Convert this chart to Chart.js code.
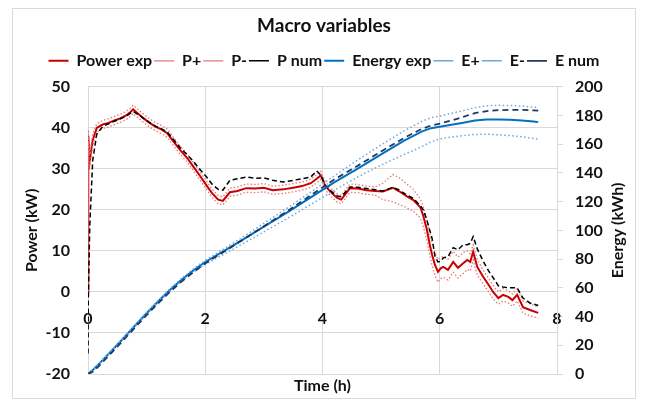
<!DOCTYPE html>
<html>
<head>
<meta charset="utf-8">
<script src="https://cdn.jsdelivr.net/npm/chart.js@4.4.1/dist/chart.umd.min.js"></script>
<style>
  html, body { margin: 0; padding: 0; background: #fff; }
  #wrap { position: relative; width: 648px; height: 402px; }
  #frame { position: absolute; left: 12px; top: 8px; width: 624px; height: 391px; border: 1px solid #d9d9d9; box-sizing: border-box; }
  #c { position: absolute; left: 0; top: 0; }
</style>
</head>
<body>
<div id="wrap">
  <div id="frame"></div>
  <canvas id="c" width="648" height="402"></canvas>
</div>
<script>
// ---- Power series (kW), time in hours ----
const tP = [0,0.005,0.03,0.08,0.15,0.25,0.35,0.45,0.55,0.65,
  0.72,0.77,0.85,0.95,1.05,1.15,1.25,1.35,1.45,1.57,
  1.7,1.8,1.9,2.03,2.12,2.22,2.3,2.42,2.55,2.7,
  2.85,3.0,3.15,3.33,3.5,3.65,3.8,3.9,3.97,4.05,
  4.15,4.25,4.32,4.4,4.47,4.6,4.75,4.9,5.03,5.2,
  5.3,5.44,5.55,5.67,5.72,5.78,5.83,5.87,5.92,5.97,
  6.02,6.06,6.14,6.23,6.31,6.4,6.47,6.52,6.57,6.64,
  6.74,6.83,6.91,7.0,7.08,7.17,7.24,7.32,7.42,7.54,
  7.68];
const powerExp = [0,38,32,37,40,40.8,41.2,41.8,42.3,43,
  43.8,44.5,43.5,42.3,41.2,40.3,39.6,38.7,36.8,34.6,
  32.5,30.5,28.5,25.8,24,22.5,22.2,24.3,24.6,25.3,
  25.2,25.4,24.8,25,25.4,25.8,26.5,27.6,28.4,25.8,
  24.2,22.9,22.5,24,25.3,25.2,24.8,24.6,24.5,25.4,
  24.6,23.3,22.4,20.6,18.5,15.2,11.5,9,6.5,4.9,
  5.8,6.1,5.4,7.3,5.9,7,7.8,7.3,9.8,6.1,
  3.7,1.8,0,-1.5,-0.7,-1.2,-2,-0.7,-3.7,-4.4,
  -5.1];
const pPlus = [1.5,39.5,33.5,38.5,41,41.8,42.2,42.8,43.3,44,
  44.8,45.5,44.5,43.3,42.2,41.3,40.6,39.7,37.8,35.6,
  33.5,31.5,29.5,26.8,25,23.5,23.2,25.3,25.6,26.3,
  26.2,26.4,25.8,26,26.4,26.8,27.5,28.6,29.4,26.8,
  25.2,23.9,23.5,25,26.3,26.2,25.8,25.6,26.5,28.6,
  27.9,26.3,25,22.6,20.7,17.7,14.2,11.8,9.5,7.9,
  8.4,8.7,8,9.9,8.5,9.6,10,9.3,11.5,7.9,
  5.3,3.4,1.6,0,0.8,0.3,-0.5,0.8,-2.2,-2.9,
  -3.7];
const pMinus = [-1.5,36.5,30.5,35.5,39,39.8,40.2,40.8,41.3,42,
  42.8,43.5,42.5,41.3,40.2,39.3,38.6,37.7,35.8,33.6,
  31.5,29.5,27.5,24.8,23,21.5,21.2,23.3,23.6,24.3,
  24.2,24.4,23.8,24,24.4,24.8,25.5,26.6,27.4,24.8,
  23.2,21.9,21.5,23,24.3,24.2,23.8,23.6,22.5,22,
  21.4,20.5,19.7,18,15.9,12.6,8.9,6.4,4,2.4,
  3.3,3.6,2.9,4.8,3.4,4.5,5.5,5.1,7.8,4.1,
  2,0.1,-1.7,-3,-2.2,-2.7,-3.5,-2.2,-5.2,-5.8,
  -6.4];
const pNum = [-15,-2,16,32,38.5,40.3,41,41.6,42.2,42.8,
  43.5,44,43.3,42.3,41.3,40.4,39.8,39,37.3,35.2,
  33.3,31.8,30,27.9,26.2,25,24.8,27.2,27.6,28,
  27.7,27.8,27.2,26.8,27.2,27.6,28,29.5,28.5,26,
  24.5,23.4,23.2,24.5,25.6,25.5,25.2,24.9,24.6,25.5,
  24.9,23.6,22.8,21,20,17.5,15,13,8.6,7.3,
  7.5,8.3,8.6,10.8,10.3,11.5,11.5,11.8,13.5,10.5,
  7.5,5.2,3.5,1.5,1.2,1,1,1,-1.5,-2.7,
  -3.3];

// ---- Energy series (kWh), time in hours ----
const tE = [0,0.1,0.2,0.4,0.6,0.8,1.0,1.2,1.4,1.6,
  1.8,2.0,2.3,2.6,3.0,3.4,3.8,4.2,4.6,5.0,
  5.4,5.7,5.85,6.0,6.2,6.4,6.6,6.8,7.0,7.2,
  7.4,7.6,7.68];
const energyExp = [0,3.5,7.6,16,24.7,33.6,42.3,50.7,58.6,65.8,
  72.3,78,85.2,92.5,102.6,112.6,123,133.4,143,153,
  162.7,169,171.2,172.2,173.5,174.9,176.5,177.3,177.3,177,
  176.6,175.8,175.4];
const ePlus = [0,3.6,7.8,16.3,25.1,34.1,42.9,51.4,59.4,66.7,
  73.3,79.2,86.7,94.3,104.9,115.6,126.7,137.9,149,159.6,
  169.5,176,178.4,179.6,181.5,183.4,185.5,186.8,187.1,187,
  186.6,185.8,185.4];
const eMinus = [0,3.4,7.4,15.7,24.3,33.1,41.7,50,57.7,64.7,
  71,76.4,83,89.7,99,108.3,118,128,137.2,145.5,
  153,158.5,161.5,163.8,165,166,166.8,167,166.6,166,
  165.2,164,163.6];
const eNum = [0,2.0,6.1,14.7,23.4,32.3,41,49.4,57.3,64.5,
  71,77,84.7,92.4,102.8,113.4,124.5,135.4,145,155,
  164.6,170.8,173,174.4,176.5,179.1,181.7,183.1,183.7,183.9,
  183.9,183.6,183.4];

const seriesNames = ['Power exp','P+','P-','P num','Energy exp','E+','E-','E num'];

const pts = (ts, vs) => ts.map((t, i) => ({x: t, y: vs[i]}));
const FONT = 'Lato';
const TXT = '#111111';
const tickFont = {family: FONT, size: 16, weight: 'bold'};

const rightTitle = {
  id: 'rightTitle',
  afterDraw(chart) {
    const {ctx, chartArea, scales} = chart;
    const s = scales.y2;
    ctx.save();
    ctx.font = 'bold 16px ' + FONT;
    ctx.fillStyle = TXT;
    ctx.textAlign = 'center';
    ctx.textBaseline = 'middle';
    ctx.translate(s.right - 30, (chartArea.top + chartArea.bottom) / 2);
    ctx.rotate(-Math.PI / 2);
    ctx.fillText('Energy (kWh)', 0, 0);
    ctx.restore();
  }
};

function mk(label, data, axis, color, width, dash, order) {
  return {label, data, yAxisID: axis, borderColor: color, backgroundColor: color,
    borderWidth: width, borderDash: dash, borderCapStyle: 'butt', pointRadius: 0, pointHoverRadius: 0,
    fill: false, tension: 0, order};
}

function draw() {
  new Chart(document.getElementById('c'), {
    type: 'line',
    data: {
      datasets: [
        mk(seriesNames[0], pts(tP, powerExp), 'y', '#C80000', 2, [], 8),
        mk(seriesNames[1], pts(tP, pPlus), 'y', '#E87878', 1.3, [1.5, 2], 7),
        mk(seriesNames[2], pts(tP, pMinus), 'y', '#E87878', 1.3, [1.5, 2], 6),
        mk(seriesNames[3], pts(tP, pNum), 'y', '#000000', 1.5, [5, 3], 5),
        mk(seriesNames[4], pts(tE, energyExp), 'y2', '#0070C0', 2, [], 4),
        mk(seriesNames[5], pts(tE, ePlus), 'y2', '#6FA8DC', 1.5, [1.5, 2.5], 3),
        mk(seriesNames[6], pts(tE, eMinus), 'y2', '#6FA8DC', 1.5, [1.5, 2.5], 2),
        mk(seriesNames[7], pts(tE, eNum), 'y2', '#203864', 1.8, [6, 4], 1)
      ]
    },
    options: {
      responsive: false,
      animation: false,
      devicePixelRatio: 1,
      layout: {padding: {left: 0, right: 0, top: 0, bottom: 0}},
      plugins: {
        title: {display: true, text: 'Macro variables', color: TXT,
          font: {family: FONT, size: 19, weight: 'bold'}, padding: {top: 14, bottom: 14}},
        legend: {display: true, position: 'top',
          labels: {usePointStyle: true, pointStyle: 'line', pointStyleWidth: 20,
            font: {family: FONT, size: 16, weight: 'bold'}, color: TXT, padding: 2,
            sort: (a, b) => a.datasetIndex - b.datasetIndex}},
        tooltip: {enabled: false}
      },
      scales: {
        x: {type: 'linear', position: {y: 0}, min: 0, max: 8,
          ticks: {stepSize: 2, padding: 17, font: tickFont, color: TXT, maxRotation: 0},
          grid: {color: '#d9d9d9', drawTicks: false}, border: {display: false}},
        xt: {type: 'linear', position: 'top', min: 0, max: 8, display: true,
          ticks: {display: false}, grid: {display: false, drawTicks: false}, border: {display: false},
          afterFit(s) { s.height = 8; }},
        xb: {type: 'linear', position: 'bottom', min: 0, max: 8, display: true,
          ticks: {display: false}, grid: {display: false, drawTicks: false}, border: {display: false},
          title: {display: true, text: 'Time (h)', color: TXT, font: {family: FONT, size: 16, weight: 'bold'},
            padding: {top: 0, bottom: 7}},
          afterFit(s) { s.height = 28; }},
        y: {type: 'linear', position: 'left', min: -20, max: 50,
          ticks: {stepSize: 10, padding: 18, font: tickFont, color: TXT},
          grid: {color: '#d9d9d9', drawTicks: false}, border: {display: false},
          title: {display: true, text: 'Power (kW)', color: TXT, font: {family: FONT, size: 16, weight: 'bold'},
            padding: {top: 22, bottom: 0}},
          afterFit(s) { s.width = 88; }},
        y2: {type: 'linear', position: 'right', min: 0, max: 200,
          ticks: {stepSize: 20, padding: 12, font: tickFont, color: TXT},
          grid: {drawOnChartArea: false, color: '#d9d9d9', tickLength: 6, drawTicks: true},
          border: {display: true, color: '#d9d9d9'},
          afterFit(s) { s.width = 91; }}
      }
    },
    plugins: [rightTitle]
  });
}
if (document.fonts && document.fonts.load) {
  document.fonts.load('bold 16px Lato').then(draw, draw);
} else { draw(); }
</script>
</body>
</html>
